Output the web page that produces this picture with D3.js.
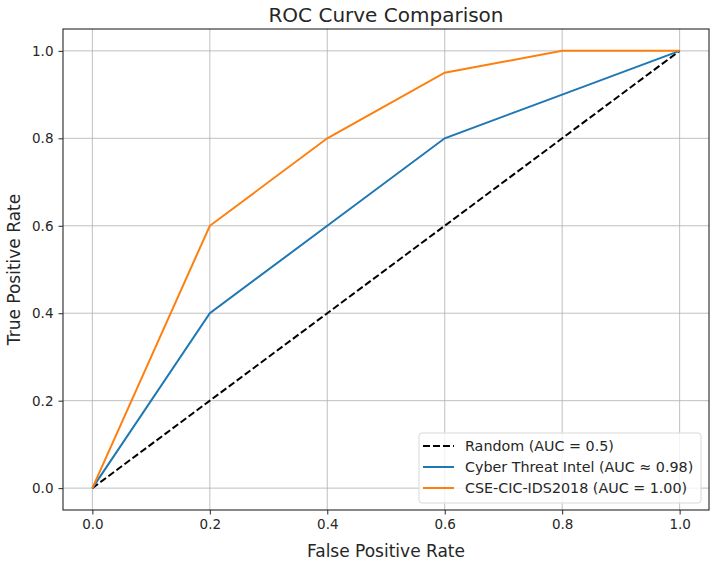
<!DOCTYPE html>
<html>
<head>
<meta charset="utf-8">
<script src="https://cdn.jsdelivr.net/npm/d3@7"></script>
<style>
  body { margin: 0; background: #fff; }
  text { font-family: "DejaVu Sans", sans-serif; fill: #262626; }
</style>
</head>
<body>
<svg id="chart" width="715" height="561"></svg>
<script>
// data
let fpr = [0, 0.2, 0.4, 0.6, 0.8, 1.0];
let tprCyber = [0, 0.4, 0.6, 0.8, 0.9, 1.0];
let tprCic = [0, 0.6, 0.8, 0.95, 1.0, 1.0];
let randomX = [0, 1];
let randomY = [0, 1];
let ticks = [0, 0.2, 0.4, 0.6, 0.8, 1.0];

let seriesNames = ["Random (AUC = 0.5)", "Cyber Threat Intel (AUC \u2248 0.98)", "CSE-CIC-IDS2018 (AUC = 1.00)"];
let seriesColors = ["#000000", "#1f77b4", "#ff7f0e"];

const MARGIN = { LEFT: 63, RIGHT: 6, TOP: 29, BOTTOM: 51 };
let width = 715, height = 561;

let svg = d3.select("#chart");

let xScale = d3.scaleLinear().domain([-0.05, 1.05]).range([MARGIN.LEFT, width - MARGIN.RIGHT]);
let yScale = d3.scaleLinear().domain([-0.05, 1.05]).range([height - MARGIN.BOTTOM, MARGIN.TOP]);

// grid
let grid = svg.append("g");
grid.selectAll(".gx").data(ticks).enter().append("line")
  .attr("x1", d => xScale(d)).attr("x2", d => xScale(d))
  .attr("y1", MARGIN.TOP).attr("y2", height - MARGIN.BOTTOM)
  .attr("stroke", "#b0b0b0").attr("stroke-width", 0.8);
grid.selectAll(".gy").data(ticks).enter().append("line")
  .attr("y1", d => yScale(d)).attr("y2", d => yScale(d))
  .attr("x1", MARGIN.LEFT).attr("x2", width - MARGIN.RIGHT)
  .attr("stroke", "#b0b0b0").attr("stroke-width", 0.8);

let line = d3.line().x(d => xScale(d[0])).y(d => yScale(d[1]));

svg.append("path")
  .datum(d3.zip(randomX, randomY))
  .attr("d", line).attr("fill", "none")
  .attr("stroke", seriesColors[0]).attr("stroke-width", 2)
  .attr("stroke-dasharray", "7,3");

svg.append("path")
  .datum(d3.zip(fpr, tprCyber))
  .attr("d", line).attr("fill", "none")
  .attr("stroke", seriesColors[1]).attr("stroke-width", 2);

svg.append("path")
  .datum(d3.zip(fpr, tprCic))
  .attr("d", line).attr("fill", "none")
  .attr("stroke", seriesColors[2]).attr("stroke-width", 2);

// axes
let xAxis = d3.axisBottom(xScale).tickValues(ticks).tickFormat(d3.format(".1f")).tickSize(4.5).tickPadding(5);
let gx = svg.append("g")
  .attr("transform", "translate(0," + (height - MARGIN.BOTTOM) + ")")
  .call(xAxis);
let yAxis = d3.axisLeft(yScale).tickValues(ticks).tickFormat(d3.format(".1f")).tickSize(4.5).tickPadding(5);
let gy = svg.append("g")
  .attr("transform", "translate(" + MARGIN.LEFT + ",0)")
  .call(yAxis);
[gx, gy].forEach(g => {
  g.select(".domain").remove();
  g.selectAll("line").attr("stroke", "#262626").attr("stroke-width", 1);
  g.selectAll("text").attr("font-size", 13.5).attr("font-family", "DejaVu Sans").attr("fill", "#262626");
});

// frame
svg.append("rect")
  .attr("x", MARGIN.LEFT).attr("y", MARGIN.TOP)
  .attr("width", width - MARGIN.RIGHT - MARGIN.LEFT)
  .attr("height", height - MARGIN.BOTTOM - MARGIN.TOP)
  .attr("fill", "none").attr("stroke", "#262626").attr("stroke-width", 1.1);

// labels
svg.append("text")
  .attr("x", (MARGIN.LEFT + width - MARGIN.RIGHT) / 2).attr("y", 22)
  .attr("text-anchor", "middle").attr("font-size", 20)
  .text("ROC Curve Comparison");

svg.append("text")
  .attr("x", (MARGIN.LEFT + width - MARGIN.RIGHT) / 2).attr("y", 557)
  .attr("text-anchor", "middle").attr("font-size", 17)
  .text("False Positive Rate");

svg.append("text")
  .attr("transform", "translate(20," + ((MARGIN.TOP + height - MARGIN.BOTTOM) / 2) + ") rotate(-90)")
  .attr("text-anchor", "middle").attr("font-size", 17)
  .text("True Positive Rate");

// legend
let legend = svg.append("g").attr("transform", "translate(419,433)");
legend.append("rect")
  .attr("width", 282).attr("height", 70).attr("rx", 3)
  .attr("fill", "white").attr("fill-opacity", 0.8)
  .attr("stroke", "#d9d9d9").attr("stroke-width", 1);
seriesNames.forEach((name, i) => {
  let y = 13 + i * 21;
  legend.append("line")
    .attr("x1", 4).attr("x2", 35).attr("y1", y).attr("y2", y)
    .attr("stroke", seriesColors[i]).attr("stroke-width", 2)
    .attr("stroke-dasharray", i === 0 ? "7,3" : null);
  legend.append("text")
    .attr("x", 46).attr("y", y).attr("dy", "0.35em")
    .attr("font-size", 14.3)
    .text(name);
});
</script>
</body>
</html>
